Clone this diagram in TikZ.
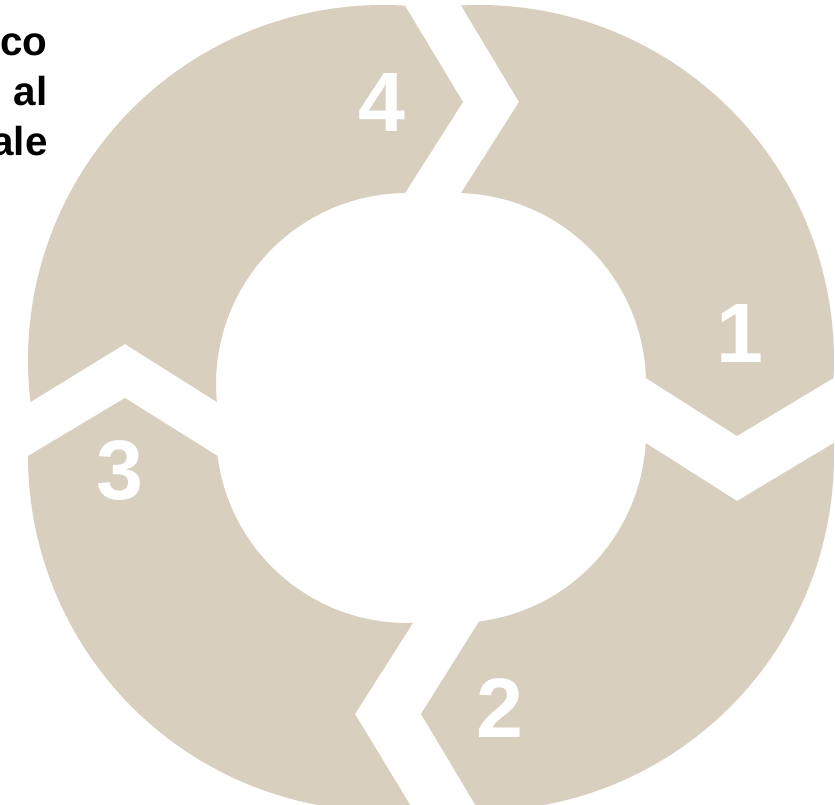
\documentclass[tikz,border=0pt]{standalone}
\usepackage{fontspec}
\setmainfont{Liberation Sans}
\usepackage{xcolor}
\usepackage{tikz}
\usetikzlibrary{positioning,calc}
\definecolor{cycleTan}{HTML}{D9CFBF}

\begin{document}
\begin{tikzpicture}[x=0.2mm, y=0.2mm,
    segfill/.style={fill=cycleTan},
    numlabel/.style={text=white, font=\fontsize{48}{48}\selectfont\bfseries, inner sep=0pt},
    sidetext/.style={align=right, font=\fontsize{23}{28.5}\selectfont\bfseries, inner sep=0pt}]
  \path[use as bounding box, clip] (0,0) rectangle (835,805);
  \fill[white] (0,0) rectangle (835,805);

  % four chevron segments round (431,397), clockwise 1-2-3-4
  % \gs, \ge: offsets of the notched start edge and the pointed end edge
  \foreach \num/\rot/\gs/\ge/\la/\lr in {1/0/30/30/13.6/318, 2/-90/35/48/13/308,
                                        3/-180/18/48/11.3/317, 4/-270/6/26/9.1/309} {
    \pgfmathsetmacro\aos{90+asin((48-\gs)/355)}
    \pgfmathsetmacro\aoe{-asin((48-\ge)/355)}
    \pgfmathsetmacro\ais{90+asin((24-\gs)/191)}
    \pgfmathsetmacro\aie{-asin((24-\ge)/191)}
    \begin{scope}[shift={(431,397)}, rotate=\rot]
      \fill[segfill] ($(48,48)+(\aos:355)$) arc[start angle=\aos, end angle=\aoe, radius=355]
        -- (306,\ge-58) -- ($(24,24)+(\aie:191)$) arc[start angle=\aie, end angle=\ais, radius=191]
        -- (\gs+58,306) -- cycle;
      \node[numlabel] (seg\num) at (\la:\lr) {\num};
    \end{scope}
  }

  \node[sidetext, anchor=north east] (title) at (48,772) {co\\al\\ale};
\end{tikzpicture}
\end{document}
